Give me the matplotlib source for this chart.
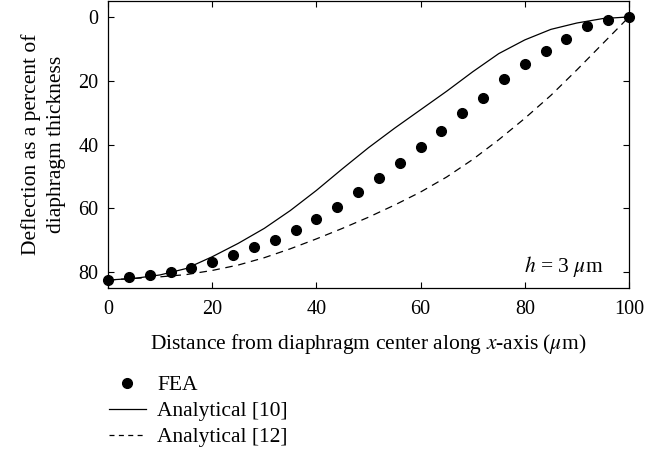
#!/usr/bin/env python3
import matplotlib
matplotlib.use("Agg")
import matplotlib.pyplot as plt
from matplotlib.lines import Line2D

# FEA results (every 4 um)
fea_x = [0, 4, 8, 12, 16, 20, 24, 28, 32, 36, 40, 44, 48, 52,
         56, 60, 64, 68, 72, 76, 80, 84, 88, 92, 96, 100]
fea_y = [82.5, 81.6, 80.9, 80.0, 78.8, 77.0, 74.8, 72.2, 70.0, 66.9,
         63.3, 59.6, 55.0, 50.5, 45.8, 40.7, 35.9, 30.2, 25.3, 19.5,
         14.6, 10.7, 6.9, 2.9, 1.0, 0.0]

# analytical curves, read every 5 um
curve_x = [0, 5, 10, 15, 20, 25, 30, 35, 40, 45, 50,
           55, 60, 65, 70, 75, 80, 85, 90, 95, 100]
ref10_y = [82.5, 82.0, 80.9, 78.9, 75.2, 71.0, 66.3, 60.7, 54.4, 47.6, 41.0,
           34.9, 29.1, 23.3, 17.2, 11.5, 7.2, 3.9, 1.9, 0.5, 0.0]
ref12_y = [82.5, 82.0, 81.5, 80.8, 79.5, 77.8, 75.5, 72.7, 69.6, 66.3, 62.8,
           59.0, 54.9, 50.2, 44.7, 38.5, 31.8, 24.6, 16.6, 8.3, 0.0]

xticks = [0, 20, 40, 60, 80, 100]
yticks = [0, 20, 40, 60, 80]

plt.rcParams['font.family'] = ['Liberation Serif', 'DejaVu Serif']
plt.rcParams['mathtext.fontset'] = 'stix'

FS = 15.5

fig = plt.figure(figsize=(6.66, 4.54), dpi=100)
ax = fig.add_axes([108 / 666, 1 - 288 / 454, 521 / 666, 287 / 454])

ax.plot(curve_x, ref10_y, color='black', linewidth=0.9, linestyle='-')
ax.plot(curve_x, ref12_y, color='black', linewidth=0.9, linestyle=(0, (6, 4.5)))
ax.plot(fea_x, fea_y, 'o', color='black', markersize=7, clip_on=False)

ax.set_xlim(0, 100)
ax.set_ylim(85, -5)
ax.set_xticks(xticks)
ax.set_yticks(yticks)
ax.tick_params(direction='in', top=True, right=True, length=4, width=0.8,
               labelsize=14.5)
ax.tick_params(axis='x', pad=9)
ax.tick_params(axis='y', pad=7)
for s in ax.spines.values():
    s.set_linewidth(0.9)

ax.set_xlabel(r'Distance from diaphragm center along $x$-axis ($\mu$m)',
              fontsize=FS, labelpad=9)
ax.set_ylabel('Deflection as a percent of\ndiaphragm thickness',
              fontsize=FS, labelpad=9, linespacing=1.4)

ax.text(0.95, 0.03, r'$h$ = 3 $\mu$m', transform=ax.transAxes,
        ha='right', va='bottom', fontsize=FS)

handles = [
    Line2D([], [], marker='o', color='black', linestyle='none', markersize=7),
    Line2D([], [], color='black', linewidth=0.9),
    Line2D([], [], color='black', linewidth=0.9, linestyle=(0, (4, 3.5))),
]
labels = ['FEA', 'Analytical [10]', 'Analytical [12]']
fig.legend(handles, labels, loc='upper left', bbox_to_anchor=(109 / 666, 1 - 375 / 454),
           frameon=False, fontsize=FS, handlelength=1.7, handletextpad=0.55,
           labelspacing=0.28, borderpad=0, borderaxespad=0)

fig.savefig('out.png', dpi=100)
